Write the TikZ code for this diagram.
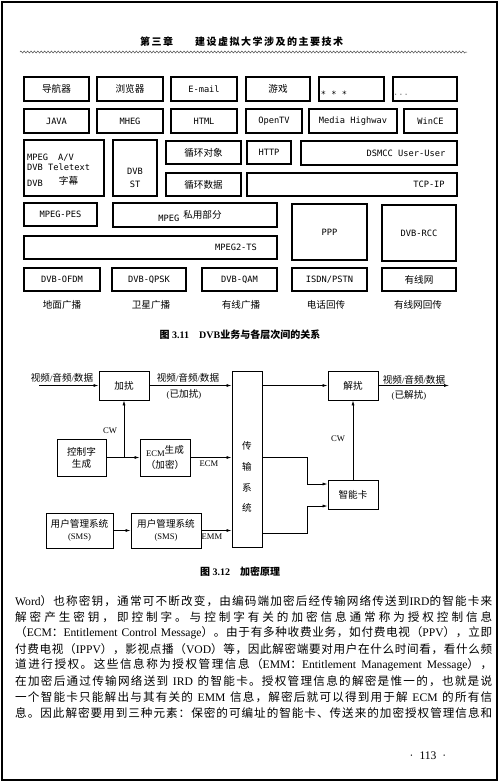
\documentclass[tikz,border=0pt]{standalone}
\usepackage{fontspec}
\setmainfont{Liberation Serif}
\newfontfamily\cjkfam{Noto Sans CJK SC}
\newfontfamily\monofam{DejaVu Sans Mono}
\usetikzlibrary{arrows.meta, decorations.pathmorphing}

% switch fonts between Latin and CJK characters
\newcommand\latcur{\rmfamily}
\newcommand\cjkcur{\cjkfam}
\newcommand\cjkgap{\hskip 0pt plus 1pt\relax}
\newcount\cjkidx
\cjkidx="4E00
\loop\ifnum\cjkidx<"A000 \XeTeXcharclass\cjkidx=1 \advance\cjkidx by 1 \repeat
\XeTeXcharclass"FF08=2
\XeTeXcharclass"FF09=3
\XeTeXcharclass"FF0C=3
\XeTeXcharclass"3002=3
\XeTeXcharclass"3001=3
\XeTeXcharclass"FF1A=3
\XeTeXinterchartokenstate=1
\XeTeXinterchartoks 0 1 = {\cjkcur}
\XeTeXinterchartoks 0 2 = {\cjkcur}
\XeTeXinterchartoks 0 3 = {\cjkcur}
\XeTeXinterchartoks 4095 1 = {\cjkcur}
\XeTeXinterchartoks 4095 2 = {\cjkcur}
\XeTeXinterchartoks 4095 3 = {\cjkcur}
\XeTeXinterchartoks 1 0 = {\latcur}
\XeTeXinterchartoks 2 0 = {\latcur}
\XeTeXinterchartoks 3 0 = {\latcur}
\XeTeXinterchartoks 1 4095 = {\latcur}
\XeTeXinterchartoks 2 4095 = {\latcur}
\XeTeXinterchartoks 3 4095 = {\latcur}
\XeTeXinterchartoks 1 1 = {\cjkgap}
\XeTeXinterchartoks 1 2 = {\cjkgap}
\XeTeXinterchartoks 1 3 = {\cjkgap}
\XeTeXinterchartoks 2 1 = {\cjkgap}
\XeTeXinterchartoks 2 2 = {\cjkgap}
\XeTeXinterchartoks 2 3 = {\cjkgap}
\XeTeXinterchartoks 3 1 = {\cjkgap}
\XeTeXinterchartoks 3 2 = {\cjkgap}
\XeTeXinterchartoks 3 3 = {\cjkgap}

\newcommand\setfonts[4]{\def\latcur{#1\fontsize{#2}{#4}\selectfont}%
  \def\cjkcur{\cjkfam\fontsize{#3}{#4}\selectfont}\latcur}
\newcommand\figa{\setfonts{\monofam}{8.7}{9.6}{10.5}}
\newcommand\figb{\setfonts{\rmfamily}{8.6}{9.6}{12}}
\newcommand\capfont{\bfseries\setfonts{\rmfamily}{10}{10}{12}}
\newcommand\bodyfont{\setfonts{\rmfamily}{11.6}{11.6}{16}}

\begin{document}
\begin{tikzpicture}[x=1pt, y=-1pt,
    lay/.style={draw, line width=1.1pt, inner sep=0pt, font=\figa},
    blk/.style={draw, line width=0.9pt, inner sep=0pt, align=center, font=\figb},
    lbl/.style={inner sep=0pt, font=\figb},
    arr/.style={-{Latex[length=5pt,width=3pt]}, line width=0.7pt},
    txt/.style={anchor=west, inner sep=0pt, font=\bodyfont}
  ]
  \useasboundingbox (0,0) rectangle (500,782);
  \fill[white] (0,0) rectangle (500,782);
  \draw[line width=1.5pt] (2,2) rectangle (497,780);

  % Running head
  \node[inner sep=0pt, font=\capfont] (head) at (241.5,42)
    {\makebox[203pt][s]{第三章\hspace{22pt}建设虚拟大学涉及的主要技术}};
  \draw[decorate, decoration={zigzag, segment length=3.4pt, amplitude=1pt},
        line width=0.5pt, black!70] (20,52) -- (467,52);

  % Fig 3.11, row 1
  \node[lay, minimum width=65, minimum height=24] (nav) at (56.5,89) {导航器};
  \node[lay, minimum width=66, minimum height=24] (browser) at (130,89) {浏览器};
  \node[lay, minimum width=66, minimum height=24] (email) at (204,89) {E-mail};
  \node[lay, minimum width=64, minimum height=24] (game) at (278,89) {游戏};
  \node[lay, minimum width=65, minimum height=24] (more1) at (351.5,89) {};
  \node[lay, minimum width=64, minimum height=24] (more2) at (425,89) {};
  \node[font=\figa, inner sep=0pt] (more1t) at (334,94) {* * *};
  \node[font=\figa, inner sep=0pt, black!50] (more2t) at (401,95) {...};

  % row 2
  \node[lay, minimum width=65, minimum height=24] (java) at (56.5,121) {JAVA};
  \node[lay, minimum width=66, minimum height=24] (mheg) at (130,121) {MHEG};
  \node[lay, minimum width=66, minimum height=24] (html) at (204,121) {HTML};
  \node[lay, minimum width=56, minimum height=24] (opentv) at (274,121) {OpenTV};
  \node[lay, minimum width=88, minimum height=24] (media) at (353,121) {Media Highwav};
  \node[lay, minimum width=53, minimum height=24] (wince) at (430.5,121) {WinCE};

  % row 3
  \node[lay, minimum width=80, minimum height=56] (mpegav) at (64,168) {};
  \node[font=\figa, inner sep=0pt, align=left, anchor=west] (mpegavt) at (27,170)
    {MPEG\hspace{10pt}A/V\\DVB Teletext\\[5pt]DVB\hspace{16pt}\raisebox{2pt}{字幕}};
  \node[lay, minimum width=44, minimum height=56] (dvbst) at (135,168) {};
  \node[font=\figa, inner sep=0pt, align=center] (dvbstt) at (135,178) {DVB\\[3pt]ST};
  \node[lay, minimum width=75, minimum height=23] (loopobj) at (203.5,152.5) {循环对象};
  \node[lay, minimum width=75, minimum height=23] (loopdata) at (203.5,184.5) {循环数据};
  \node[lay, minimum width=44, minimum height=23] (http) at (269,152.5) {HTTP};
  \node[lay, minimum width=156, minimum height=24] (dsmcc) at (379,153) {};
  \node[font=\figa, inner sep=0pt] (dsmcct) at (406,153) {DSMCC User-User};
  \node[lay, minimum width=210, minimum height=23] (tcpip) at (352,184.5) {};
  \node[font=\figa, inner sep=0pt] (tcpipt) at (429,184.5) {TCP-IP};

  % row 4
  \node[lay, minimum width=73, minimum height=23] (pes) at (60.5,214.5) {MPEG-PES};
  \node[lay, minimum width=164, minimum height=24] (priv) at (195,215) {};
  \node[font=\figa, inner sep=0pt] (privt) at (190,216)
    {\raisebox{-3pt}{MPEG}\hspace{4pt}私用部分};
  \node[lay, minimum width=253, minimum height=23] (ts) at (150.5,247.5) {};
  \node[font=\figa, inner sep=0pt] (tst) at (236,247.5) {MPEG2-TS};
  \node[lay, minimum width=75, minimum height=56] (ppp) at (329.5,232) {PPP};
  \node[lay, minimum width=74, minimum height=56] (rcc) at (419,233) {DVB-RCC};

  % row 5
  \node[lay, minimum width=76, minimum height=23] (ofdm) at (62,279.5) {DVB-OFDM};
  \node[lay, minimum width=74, minimum height=23] (qpsk) at (149,279.5) {DVB-QPSK};
  \node[lay, minimum width=75, minimum height=23] (qam) at (239.5,279.5) {DVB-QAM};
  \node[lay, minimum width=75, minimum height=23] (isdn) at (329.5,279.5) {ISDN/PSTN};
  \node[lay, minimum width=74, minimum height=23] (cable) at (419,279.5) {有线网};

  \node[lbl] (terr) at (62,305) {地面广播};
  \node[lbl] (sat) at (151,305) {卫星广播};
  \node[lbl] (cab) at (241,305) {有线广播};
  \node[lbl] (tel) at (326,305) {电话回传};
  \node[lbl] (cabret) at (418,305) {有线网回传};

  \node[inner sep=0pt, font=\capfont] (cap11) at (240,335)
    {图 3.11\hspace{10pt}DVB业务与各层次间的关系};

  % Fig 3.12
  \node[blk, minimum width=50, minimum height=29] (scramble) at (124,385.5) {加扰};
  \node[blk, minimum width=30, minimum height=176] (trans) at (247,459) {};
  \node[lbl, align=center] (transt) at (247,477) {传\\[8.7pt]输\\[8.7pt]系\\[8.7pt]统};
  \node[blk, minimum width=49, minimum height=37] (cwgen) at (81.5,457.5) {控制字\\生成};
  \node[blk, minimum width=50, minimum height=37] (ecmgen) at (165,457.5)
    {ECM\raisebox{3pt}{生成}\\（加密）};
  \node[blk, minimum width=67, minimum height=35] (sms1) at (79.5,530.5) {用户管理系统\\(SMS)};
  \node[blk, minimum width=70, minimum height=35] (sms2) at (166,530.5) {用户管理系统\\(SMS)};
  \node[blk, minimum width=50, minimum height=29] (descr) at (353,385.5) {解扰};
  \node[blk, minimum width=50, minimum height=29] (card) at (353,494.5) {智能卡};

  \coordinate (vin) at (39,385.5);
  \coordinate (vout) at (449,385.5);
  \coordinate (bend1) at (307,484);
  \coordinate (bend2) at (307,506);
  \coordinate (emmout) at (262,533);

  \draw[arr] (vin) -- (scramble.west);
  \draw[arr] (scramble.east) -- (scramble.east -| trans.west);
  \draw[arr] (trans.east |- descr.west) -- (descr.west);
  \draw[arr] (descr.east) -- (vout);
  \draw[arr] (cwgen.east) -- (ecmgen.west);
  \draw[arr] (cwgen.east -| scramble.south) -- (scramble.south);
  \draw[arr] (ecmgen.east) -- (ecmgen.east -| trans.west);
  \draw[arr] (sms1.east) -- (sms2.west);
  \draw[arr] (sms2.east) -- (sms2.east -| trans.west);
  \draw[arr] (card.north) -- (descr.south);
  \draw[arr] (trans.east |- ecmgen.east) -| (bend1) -- (bend1 -| card.west);
  \draw[arr] (emmout) -| (bend2) -- (bend2 -| card.west);

  \node[lbl] (vinl) at (62,378) {视频/音频/数据};
  \node[lbl] (vencl) at (188,378) {视频/音频/数据};
  \node[lbl] (vencl2) at (184,394) {(已加扰)};
  \node[lbl] (cwl1) at (110,431) {CW};
  \node[lbl] (ecml) at (209,464) {ECM};
  \node[lbl] (emml) at (212,537) {EMM};
  \node[lbl] (cwl2) at (338,439) {CW};
  \node[lbl] (vdecl) at (414,380) {视频/音频/数据};
  \node[lbl] (vdecl2) at (409,395) {(已解扰)};

  \node[inner sep=0pt, font=\capfont] (cap12) at (240,572)
    {图 3.12\hspace{10pt}加密原理};

  % Body text
  \node[txt] (l1) at (15,601) {\makebox[477pt][s]{Word）也称密钥，通常可不断改变，由编码端加密后经传输网络传送到IRD的智能卡来}};
  \node[txt] (l2) at (15,617) {\makebox[477pt][s]{解密产生密钥，即控制字。与控制字有关的加密信息通常称为授权控制信息}};
  \node[txt] (l3) at (15,633) {\makebox[477pt][s]{（ECM：Entitlement Control Message）。由于有多种收费业务，如付费电视（PPV），立即}};
  \node[txt] (l4) at (15,649) {\makebox[477pt][s]{付费电视（IPPV），影视点播（VOD）等，因此解密端要对用户在什么时间看，看什么频}};
  \node[txt] (l5) at (15,665) {\makebox[477pt][s]{道进行授权。这些信息称为授权管理信息（EMM：Entitlement Management Message），}};
  \node[txt] (l6) at (15,681) {\makebox[477pt][s]{在加密后通过传输网络送到 IRD 的智能卡。授权管理信息的解密是惟一的，也就是说}};
  \node[txt] (l7) at (15,697) {\makebox[477pt][s]{一个智能卡只能解出与其有关的 EMM 信息，解密后就可以得到用于解 ECM 的所有信}};
  \node[txt] (l8) at (15,713) {\makebox[477pt][s]{息。因此解密要用到三种元素：保密的可编址的智能卡、传送来的加密授权管理信息和}};

  \node[inner sep=0pt, font=\bodyfont] (pageno) at (428,756) {·\hspace{6pt}113\hspace{6pt}·};
\end{tikzpicture}
\end{document}
